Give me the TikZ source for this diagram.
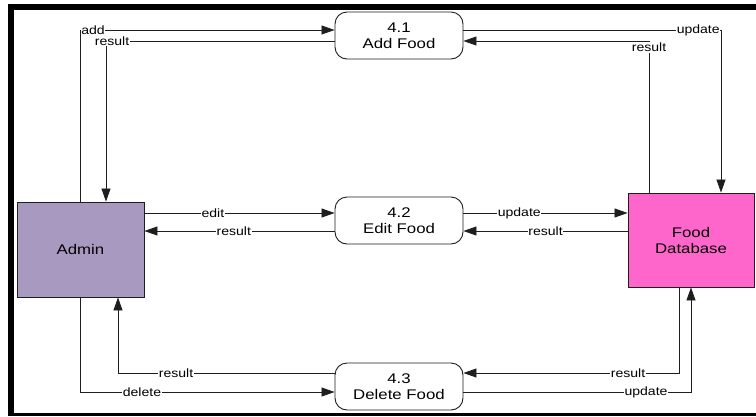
\documentclass[tikz,border=0pt]{standalone}
\usepackage{fontspec}
\setmainfont{Liberation Sans}
\newfontfamily\nodefont[FakeStretch=1.2]{Liberation Sans}
\newfontfamily\lblfont[FakeStretch=1.17]{Liberation Sans}
\usetikzlibrary{arrows.meta}
\definecolor{adminfill}{RGB}{168,153,192}
\definecolor{dbfill}{RGB}{255,102,204}
\definecolor{linec}{RGB}{30,30,30}
\tikzset{
  proc/.style={draw=linec, line width=0.9pt, rounded corners=12pt, fill=white,
    minimum width=128pt, minimum height=47pt, align=center,
    font=\nodefont\fontsize{14}{16}\selectfont, inner sep=0pt},
  entity/.style={draw=linec, line width=0.9pt, align=center,
    font=\nodefont\fontsize{14}{16}\selectfont, inner sep=0pt},
  flow/.style={draw=linec, line width=0.8pt, -{Triangle[length=13pt,width=9pt]}},
  lbl/.style={fill=white, inner sep=0.6pt, font=\lblfont\fontsize{12}{12}\selectfont}
}
\begin{document}
\begin{tikzpicture}[x=1pt,y=-1pt]
\useasboundingbox[fill=white] (0,0) rectangle (756,416);
% frame
\fill[black] (8,4) rectangle (14,416);
\fill[black] (8,4) rectangle (756,10);
\fill[black] (8,413) rectangle (756,416);

% nodes
\node[entity, fill=adminfill, minimum width=127pt, minimum height=95pt] (admin) at (80.5,249.5) {Admin};
\node[entity, fill=dbfill, minimum width=126pt, minimum height=94pt] (fdb) at (691,240) {Food\\Database};
\node[proc] (addf) at (399,35.5) {4.1\\Add Food};
\node[proc] (editf) at (399,220.5) {4.2\\Edit Food};
\node[proc] (delf) at (399,386.5) {4.3\\Delete Food};

% corner coordinates
\coordinate (cAdd) at (80,30);
\coordinate (cRes1) at (106,41);
\coordinate (cUpd1) at (721,30);
\coordinate (cRes2) at (649,41);
\coordinate (cDel) at (80,392);
\coordinate (cRes3) at (118,373);
\coordinate (cRes4) at (679,373);
\coordinate (cUpd3) at (691,392);
\coordinate (yEdit) at (0,213);
\coordinate (yRes) at (0,231);

% top
\draw[flow] (admin.north -| cAdd) -- (cAdd) -- (addf.west |- cAdd);
\node[lbl, anchor=west] (lAdd) at (80.5,30) {add};
\draw[flow] (addf.west |- cRes1) -- (cRes1) -- (admin.north -| cRes1);
\node[lbl] (lRes1) at (112,41) {result};
\draw[flow] (addf.east |- cUpd1) -- (cUpd1) -- (fdb.north -| cUpd1);
\node[lbl, anchor=east] (lUpd1) at (720.5,30) {update};
\draw[flow] (fdb.north -| cRes2) -- (cRes2) -- (addf.east |- cRes2);
\node[lbl] (lRes2) at (649,47.5) {result};

% middle
\draw[flow] (admin.east |- yEdit) -- (editf.west |- yEdit) node[lbl, pos=0.36] {edit};
\draw[flow] (editf.west |- yRes) -- (admin.east |- yRes) node[lbl, pos=0.53] {result};
\draw[flow] (editf.east |- yEdit) -- (fdb.west |- yEdit) node[lbl, pos=0.34] {update};
\draw[flow] (fdb.west |- yRes) -- (editf.east |- yRes) node[lbl, pos=0.5] {result};

% bottom
\draw[flow] (admin.south -| cDel) -- (cDel) -- (delf.west |- cDel);
\node[lbl] (lDel) at (142,392) {delete};
\draw[flow] (delf.west |- cRes3) -- (cRes3) -- (admin.south -| cRes3);
\node[lbl] (lRes3) at (176,373) {result};
\draw[flow] (fdb.south -| cRes4) -- (cRes4) -- (delf.east |- cRes4);
\node[lbl] (lRes4) at (628,373) {result};
\draw[flow] (delf.east |- cUpd3) -- (cUpd3) -- (fdb.south -| cUpd3);
\node[lbl] (lUpd3) at (646,392) {update};
\end{tikzpicture}
\end{document}
